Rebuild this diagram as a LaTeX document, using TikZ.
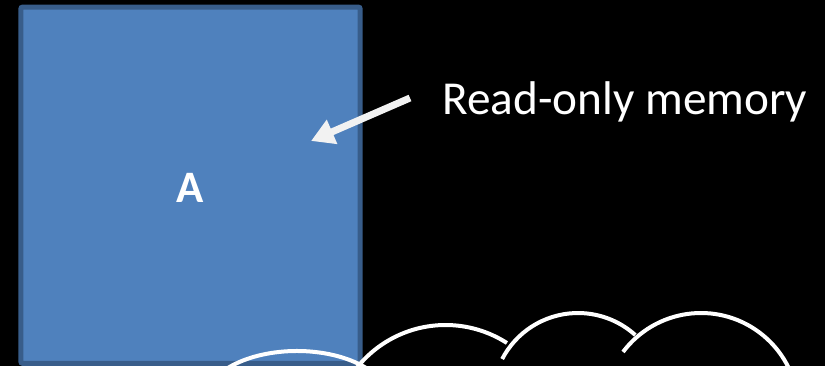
\documentclass[tikz,border=0pt]{standalone}
\usepackage{fontspec}
\newfontfamily\calibri{Carlito}
\usetikzlibrary{arrows.meta, positioning}

\definecolor{boxfill}{HTML}{4F81BD}
\definecolor{boxedge}{HTML}{385D8A}
\definecolor{offwhite}{HTML}{F2F2F2}

\begin{document}
\begin{tikzpicture}[x=0.02cm, y=0.02cm, >=Stealth,
    block/.style={rectangle, draw=boxedge, fill=boxfill, line width=0.1cm, rounded corners=0.04cm,
      minimum width=6.79cm, minimum height=7.13cm, inner sep=0pt, text height=0.7cm, text=white, font=\calibri\bfseries\fontsize{25.6}{30}\selectfont},
    note/.style={inner sep=0pt, text=white, font=\calibri\fontsize{26.9}{32}\selectfont},
    pointer/.style={draw=offwhite, line width=0.14cm, -{Triangle[length=0.46cm, width=0.5cm]}},
    lobe/.style={draw=white, line width=0.08cm}]
  \useasboundingbox (0,0) rectangle (825,366);
  \fill[black] (0,0) rectangle (825,366);
  \clip (0,0) rectangle (825,366);

  % memory block
  \node[block] (A) at (190.5,180.75) {A};
  \node[note, anchor=base west] (rom) at (442,252) {Read-only memory};
  \coordinate (tail) at (410,268);
  \coordinate (tip) at (311,225);
  \draw[pointer] (tail) -- (tip);

  % cloud lobes
  \coordinate (c1) at (297,-35);
  \coordinate (c2) at (445.6,-72.5);
  \coordinate (c3) at (578,-32.5);
  \coordinate (c4) at (701,-44.5);
  \draw[lobe] ([shift={(160:92 and 50)}]c1) arc[start angle=160, end angle=20, x radius=92, y radius=50];
  \draw[lobe] ([shift={(150:113.5)}]c2) arc[start angle=150, end angle=57.3, radius=113.5];
  \draw[lobe] ([shift={(152.5:85.5)}]c3) arc[start angle=152.5, end angle=48, radius=85.5];
  \draw[lobe] ([shift={(143.1:97.5)}]c4) arc[start angle=143.1, end angle=10, radius=97.5];
\end{tikzpicture}
\end{document}
